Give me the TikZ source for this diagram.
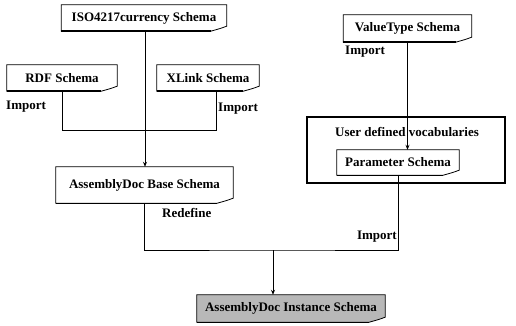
\documentclass[tikz,border=0pt]{standalone}
\usepackage{fontspec}
\setmainfont{Liberation Serif}
\usetikzlibrary{arrows.meta}

% outline of a "document" box: square top, curled bottom-right corner
\newcommand\docshape[2][white]{%
  \filldraw[docline, fill=#1] (#2.south west) -- (#2.north west) -- (#2.north east)
    -- ([yshift=5pt]#2.south east)
    .. controls ([xshift=-7pt,yshift=2.5pt]#2.south east) .. ([xshift=-16pt]#2.south east)
    -- cycle;
  \draw[line width=1.4pt] (#2.south west) -- ([xshift=-16pt]#2.south east);
}

\begin{document}
\begin{tikzpicture}[x=1pt,y=-1pt,
  txt/.style={font=\bfseries\fontsize{13}{15}\selectfont, inner sep=0pt},
  box/.style={txt, minimum width=#1},
  docline/.style={line width=0.8pt},
  link/.style={line width=0.8pt},
  arr/.style={link, -{Stealth[length=5pt,width=4pt]}}]
\useasboundingbox (0,0) rectangle (516,326);

% schema boxes (shapes only, text is set on top afterwards)
\node[box=165pt, minimum height=26pt] (iso)   at (144,18)    {};
\node[box=110pt, minimum height=26pt] (rdf)   at (62,78)     {};
\node[box=102pt, minimum height=26pt] (xlink) at (208,78)    {};
\node[box=128pt, minimum height=27pt] (vt)    at (407.5,28.5) {};
\node[draw, line width=2pt, minimum width=198pt, minimum height=66pt] (user) at (406,150) {};
\node[txt] (userlbl) at (407,132) {User defined vocabularies};
\node[box=122pt, minimum height=25pt] (param) at (398,162.5) {};
\node[box=177pt, minimum height=36pt] (base)  at (144.5,185) {};
\node[box=188pt, minimum height=27pt] (inst)  at (291,308.5) {};

\docshape{iso}
\docshape{rdf}
\docshape{xlink}
\docshape{vt}
\docshape{param}
\docshape{base}
\docshape[black!28]{inst}
\node[txt] (isot)   at (iso)   {ISO4217currency Schema};
\node[txt] (rdft)   at (rdf)   {RDF Schema};
\node[txt] (xlinkt) at (xlink) {XLink Schema};
\node[txt] (vtt)    at (vt)    {ValueType Schema};
\node[txt] (paramt) at (param) {Parameter Schema};
\node[txt] (baset)  at (base)  {AssemblyDoc Base Schema};
\node[txt] (instt)  at (inst)  {AssemblyDoc Instance Schema};

% connectors
\coordinate (j1) at (145,130);
\coordinate (j2) at (273,250);
\draw[arr] (iso.south -| j1) -- (j1 |- base.north);
\draw[link] (rdf.south) |- (j1);
\draw[link] ([xshift=8pt]xlink.south) |- (j1);
\draw[arr] (vt.south) -- (vt.south |- param.north);
\draw[link] (base.south) |- (j2) -| (param.south);
\draw[arr] (j2) -- (j2 |- inst.north);

% relation labels
\node[txt, anchor=west] (imp1)  at (6,107)   {Import};
\node[txt, anchor=west] (imp2)  at (218,109) {Import};
\node[txt, anchor=west] (imp3)  at (345,52)  {Import};
\node[txt, anchor=west] (redef) at (162,213) {Redefine};
\node[txt, anchor=east] (imp4)  at (397,237) {Import};
\end{tikzpicture}
\end{document}
